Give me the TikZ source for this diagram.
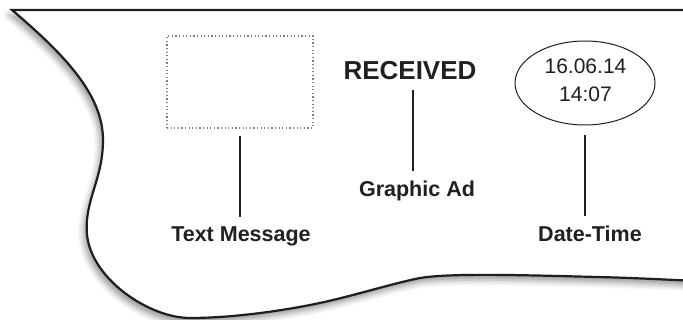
\documentclass[tikz,border=0pt]{standalone}
\usepackage{fontspec}
\setmainfont{Liberation Sans}
\usetikzlibrary{shadows.blur,shapes.geometric}
\definecolor{ink}{HTML}{231F20}
\begin{document}
\begin{tikzpicture}[x=1pt,y=-1pt,
  lbl/.style={font=\fontsize{21.5}{25}\selectfont\bfseries, text=ink, inner sep=0pt, anchor=base},
  conn/.style={draw=ink, line width=2.4pt},
  msgbox/.style={draw=gray, line width=1.1pt, dash pattern=on 1.2pt off 2.4pt, minimum width=146pt, minimum height=92pt, inner sep=0pt},
  datebox/.style={ellipse, draw=ink, line width=1pt, minimum width=140pt, minimum height=84pt, inner sep=0pt},
  datetext/.style={align=center, text=ink, inner sep=0pt, font=\fontsize{21}{28}\selectfont},
  sheet/.style={draw=ink!95!black, line width=2.2pt, fill=white, blur shadow={shadow xshift=-3pt, shadow yshift=-5pt, shadow blur radius=6pt, shadow opacity=40}}
]
\useasboundingbox (0,0) rectangle (683,320);
\path[sheet] (700,10) -- (12,10)
  .. controls (65,55) and (103,95) .. (103,140)
  .. controls (103,180) and (84,200) .. (87,235)
  .. controls (92,280) and (150,318) .. (190,318)
  .. controls (240,318) and (300,308) .. (333,300)
  .. controls (370,291) and (395,283) .. (420,278)
  .. controls (450,273) and (520,275) .. (597,277)
  .. controls (640,278) and (670,280) .. (700,281) -- cycle;

\node[msgbox] (box) at (240,82) {};
\node[lbl] (tm) at (241,242) {Text Message};
\node[font=\fontsize{26}{30}\selectfont\bfseries, text=ink, inner sep=0pt, anchor=base] (rec) at (410,80) {RECEIVED};
\node[lbl] (ga) at (417,197) {Graphic Ad};
\node[datebox] (el) at (585,83) {};
\node[datetext] (dtx) at (585.5,80) {16.06.14\\14:07};
\node[lbl] (dt) at (590,242) {Date-Time};

\draw[conn, shorten <=7pt, shorten >=10pt] (box.south) -- (box.south |- tm.north);
\draw[conn, shorten <=10pt, shorten >=10pt] ([xshift=3pt]rec.south) -- ([xshift=3pt]rec.south |- ga.north);
\draw[conn, shorten <=10pt, shorten >=10pt] (el.south) -- (el.south |- dt.north);
\end{tikzpicture}
\end{document}
